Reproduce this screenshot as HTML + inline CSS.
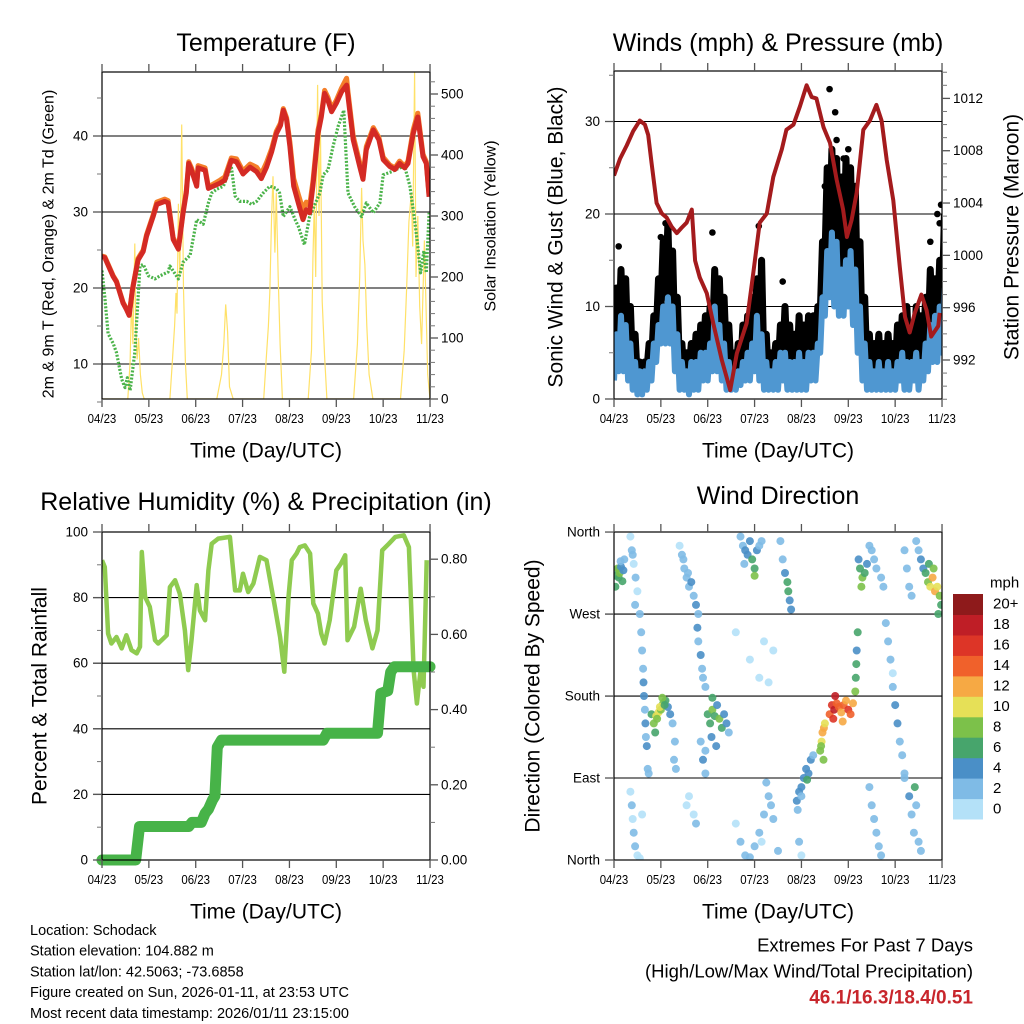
<!DOCTYPE html>
<html><head><meta charset="utf-8"><style>
html,body{margin:0;padding:0;background:#fff}
svg{display:block;font-family:"Liberation Sans",sans-serif}
</style></head><body>
<svg id="root" width="1024" height="1024" viewBox="0 0 1024 1024" xmlns="http://www.w3.org/2000/svg">
<g id="layer"></g>
</svg>
<script>
// ---------------- Data ----------------
const dayLabels = ["04/23","05/23","06/23","07/23","08/23","09/23","10/23","11/23"];
// Temperature panel
const tempT = [0,0.06,0.24,0.31,0.45,0.52,0.58,0.65,0.77,0.88,0.95,1.09,1.17,1.34,1.41,1.52,1.63,1.73,1.8,1.85,1.91,2.02,2.05,2.2,2.27,2.52,2.62,2.76,2.87,3.01,3.16,3.3,3.4,3.51,3.62,3.72,3.81,3.87,3.94,4.01,4.09,4.19,4.29,4.36,4.43,4.5,4.61,4.68,4.75,4.82,4.9,5.0,5.11,5.22,5.25,5.36,5.5,5.57,5.64,5.79,5.91,6.0,6.14,6.25,6.35,6.46,6.53,6.64,6.74,6.85,6.92,6.98];
const temp2m = [24.1,24,21.5,20.8,18,17.2,16.4,19.8,23.7,24.8,26.8,29.4,31,31.4,31.2,26.4,25.1,29.9,32.5,36.4,35.5,33.4,35.8,35.5,33.1,33.8,34.2,36.8,36.6,35,35.9,35.3,34.4,35.9,37.9,40.3,41.4,43.4,42.1,38.6,33.4,31.2,29,30.3,29.9,33.4,40.3,42.5,45.6,44.7,43.2,44.3,45.8,46.7,45.2,39.5,36,34.3,38.2,40.8,39.5,36.9,36,35.6,36.4,35.8,36.4,40.3,42.5,37.3,36.4,32];
const temp9m = [24.2,24.1,21.6,20.9,18.1,17.3,16.5,19.9,23.9,25,27,29.6,31.3,31.7,31.5,26.6,25.3,30.1,32.8,36.6,35.8,33.7,36.1,35.8,33.3,34.2,34.6,37.1,37,35.4,36.3,35.9,35,36.5,38.3,40.6,41.7,43.6,42.4,39.2,34.4,32.3,30.3,31.3,30.8,34,40.8,42.8,46,45.1,43.6,44.7,46.3,47.6,45.8,40,36.5,34.6,38.6,41.1,39.8,37.2,36.2,35.8,36.7,36,36.7,40.8,43,37.6,36.6,32.2];
const dewT = [0,0.06,0.13,0.24,0.31,0.42,0.49,0.54,0.6,0.7,0.81,0.88,0.99,1.13,1.24,1.41,1.45,1.63,1.73,1.88,2.02,2.16,2.27,2.34,2.45,2.59,2.76,2.84,2.94,3.09,3.19,3.3,3.44,3.58,3.72,3.79,3.87,4.01,4.12,4.19,4.32,4.43,4.65,4.72,4.82,4.93,5.04,5.16,5.25,5.39,5.54,5.64,5.79,5.93,6.0,6.18,6.35,6.46,6.57,6.67,6.74,6.8,6.87,6.92,6.98];
const dewPt = [22.3,18.8,14,12.7,11.5,8,6.9,8.2,6.5,11.5,22.9,23.1,21.6,21.2,21.6,22.1,22.9,21.2,23.4,24.3,29,28.4,31.2,32.5,33,33.4,36,32.1,31.4,31.4,31,31.4,32.5,33.4,33.1,32.5,29.4,30.7,29,28.1,25.7,29.4,32.5,34.9,35.5,38.6,41.3,43.4,32.5,30.7,29.4,31.2,29.9,31.2,34.9,35.3,35.8,36,33.4,29,25.5,22,24.9,22,29.9];
const solarT = [0,0.55,0.6,0.63,0.66,0.7,0.72,0.75,0.78,0.82,0.86,0.9,1.45,1.5,1.55,1.58,1.6,1.63,1.66,1.7,1.74,1.78,1.82,2.45,2.55,2.6,2.64,2.68,2.72,2.8,3.45,3.5,3.55,3.58,3.62,3.65,3.69,3.72,3.76,3.8,3.85,4.4,4.47,4.5,4.53,4.56,4.6,4.63,4.66,4.7,4.75,4.8,5.37,5.45,5.5,5.54,5.57,5.61,5.65,5.7,5.78,6.37,6.45,6.5,6.55,6.6,6.63,6.67,6.7,6.74,6.78,6.82,6.88,6.95,7];
const solarV = [0,0,60,163,90,255,120,65,100,40,10,0,0,60,120,174,140,320,200,450,180,60,0,0,40,90,155,110,20,0,0,60,120,174,300,365,240,338,200,90,0,0,80,228,321,200,515,300,448,160,70,0,0,90,200,346,260,220,120,40,0,0,80,180,290,338,250,537,200,300,152,90,260,40,0];
// Winds panel (values every 0.1 day)
const blueLo = [2,3,3,2,1,0.5,0.5,1,2,4,6,6,6,3,1,1,0.5,1,1,2,2,3,3,2,1,1,1,1.5,2,2,3,2,1,1,1,1,2,1,1,1,1,1,2,2,5,9,11,10,9,9,10,8,5,2,1,1,1,1,1,1,1,2,1,1,2,1,2,3,4,4,5];
const blueHi = [7,9,8,6,4,3,3,4,6,8,10,11,10,7,4,3,4,4,5,5,6,10,8,6,4,3,3,4,5,6,9,7,4,3,4,5,5,4,4,5,4,5,5,6,11,16,18,17,14,15,16,14,10,6,4,3,4,3,4,3,4,5,4,4,5,4,6,8,9,10,12];
const gustLo = [5,6,6,4,3,2,2,3,4,7,10,11,9,6,3,2,3,3,3,4,5,6,7,5,4,3,3,3,4,5,6,5,3,2,3,3,4,3,3,3,3,3,4,5,9,15,17,16,14,14,14,13,9,5,3,2,3,2,3,3,3,4,4,4,4,4,5,6,7,8,9];
const gustHi = [12,14,13,10,7,4,4,6,9,13,17,19,16,11,6,5,6,7,8,9,10,14,13,11,8,5,6,8,9,11,13,15,7,5,6,8,10,8,7,9,8,9,9,10,17,25,27,26,24,26,25,23,17,11,7,6,7,6,7,6,8,9,10,8,10,9,11,14,13,15,20];
const gustExtraT = [0.1,1.0,1.1,2.1,3.09,3.6,4.5,4.6,4.65,4.72,4.75,4.8,4.9,5.0,5.1,5.15,6.75,6.9,6.95,6.98];
const gustExtraV = [16.5,17.5,19,18,18.7,12.7,23,33.5,25,31,28,24,26,27,20,22,17,20,19,21];
const presT = [0,0.13,0.27,0.41,0.55,0.66,0.73,0.8,0.91,1.02,1.12,1.23,1.34,1.44,1.55,1.66,1.73,1.83,1.98,2.12,2.3,2.48,2.62,2.83,2.97,3.11,3.26,3.4,3.58,3.68,3.83,3.97,4.11,4.22,4.32,4.47,4.61,4.75,4.89,4.97,5.07,5.18,5.32,5.46,5.6,5.71,5.82,5.96,6.1,6.21,6.31,6.42,6.56,6.67,6.77,6.92,6.95];
const presV = [1006.1,1007.4,1008.4,1009.5,1010.3,1010,1009.2,1007.1,1004,1003.2,1002.9,1002.2,1001.7,1002.1,1002.5,1003.5,999.6,998.3,997.1,994.8,992,989.7,992.5,994.8,998.6,1002.5,1003.2,1006,1008.1,1009.6,1010,1011.4,1013,1012.1,1012,1009.8,1008.6,1005.8,1003.5,1001.4,1002.7,1004.8,1009.6,1010.3,1011.5,1010.3,1007.3,1004.2,999.1,995.3,994.1,995.6,997,995.8,993.8,994.6,995.6];
// RH / precipitation panel
const rhT = [0,0.06,0.13,0.2,0.31,0.42,0.52,0.63,0.74,0.81,0.85,0.92,1.02,1.13,1.2,1.38,1.45,1.56,1.66,1.77,1.84,1.91,2.02,2.09,2.2,2.27,2.34,2.48,2.73,2.84,2.94,3.01,3.12,3.23,3.37,3.51,3.69,3.8,3.89,3.98,4.05,4.15,4.22,4.33,4.44,4.51,4.61,4.68,4.75,4.86,5.0,5.1,5.19,5.24,5.38,5.52,5.63,5.77,5.88,5.98,6.12,6.26,6.44,6.55,6.65,6.72,6.79,6.86,6.93];
const rhV = [91.4,89.3,69,66,68,64.5,68.5,64,63,65,93.9,80.2,77.2,67,66,68.5,83.2,85.3,81.2,70,57.9,67,83.8,76.1,73.1,88.3,96.4,98,98.5,82.2,82.2,87.3,81.7,84.3,92.4,91.4,77.2,68,57.4,80.2,91.4,93.4,95.4,95.9,93.4,78.2,75.1,69,66,73.1,88.3,90.4,92.9,67,71.1,82.7,73.1,64.5,70,94.4,96.4,98.5,99,95.4,57.9,47.7,56.9,52.8,91.4];
const rainT = [0,0.72,0.8,1.85,1.92,2.12,2.2,2.27,2.36,2.41,2.46,2.55,2.65,4.72,4.8,5.88,5.95,6.1,6.16,6.24,7];
const rainV = [0,0,0.089,0.089,0.1,0.1,0.124,0.135,0.16,0.17,0.3,0.319,0.319,0.319,0.337,0.337,0.443,0.45,0.5,0.514,0.514];
// Wind direction panel: time (day), direction (deg), speed (mph)
const dirT = [0.02,0.05,0.08,0.1,0.12,0.15,0.18,0.2,0.03,0.14,0.22,0.35,0.38,0.42,0.46,0.5,0.55,0.58,0.6,0.62,0.63,0.64,0.66,0.67,0.68,0.7,0.72,0.74,0.45,0.4,0.35,0.38,0.4,0.42,0.45,0.5,0.55,0.6,0.8,0.85,0.9,0.95,1.0,1.05,1.1,1.15,1.2,0.88,0.92,0.98,1.03,1.08,1.25,1.3,1.28,1.32,1.4,1.45,1.5,1.55,1.6,1.65,1.7,1.75,1.8,1.48,1.58,1.78,1.8,1.85,1.88,1.9,1.95,2.0,2.05,2.1,2.15,2.2,2.25,2.3,2.35,2.4,2.45,2.08,2.18,1.95,2.1,1.85,1.9,1.95,1.6,1.7,1.75,1.55,2.7,2.75,2.8,2.85,2.9,2.95,3.0,3.05,3.1,3.15,2.78,3.0,3.55,3.6,3.65,3.7,3.72,3.75,3.78,2.6,2.7,2.8,2.9,3.0,3.1,3.2,3.3,3.35,3.4,3.5,3.25,3.15,2.9,3.2,3.4,2.6,3.1,3.3,3.9,3.95,4.0,4.05,4.1,4.15,4.2,4.25,3.92,4.0,4.12,4.4,4.43,4.45,4.48,4.5,4.42,4.47,4.6,4.65,4.7,4.75,4.8,4.85,4.9,4.95,5.0,5.05,4.72,4.68,4.88,5.1,5.15,5.16,5.17,5.18,5.2,5.22,5.25,5.3,5.35,5.4,5.45,5.5,5.55,5.6,5.28,5.7,5.75,5.45,5.5,5.55,5.6,5.65,5.7,5.8,5.85,5.9,5.95,6.0,6.05,6.1,6.15,6.2,5.95,6.2,6.25,6.3,6.35,6.45,6.5,6.55,6.6,6.65,6.7,6.75,6.8,6.85,6.9,6.95,6.98,6.72,6.82,6.92,6.2,6.3,6.35,6.4,6.45,6.5,6.55,6.42,3.95,4.0];
const dirV = [318,312,320,310,315,322,306,318,300,328,330,355,340,325,310,295,270,250,230,210,195,180,165,150,135,125,100,95,280,335,75,60,45,30,15,5,2,50,160,150,158,162,165,172,175,168,160,140,155,168,178,170,150,130,110,100,345,335,320,310,300,305,290,280,270,330,315,255,240,225,210,200,190,160,150,165,158,170,155,145,160,150,140,135,125,120,178,130,110,95,70,50,40,60,355,345,340,335,350,330,320,340,345,350,325,312,350,330,315,305,295,285,275,40,20,5,3,15,30,50,70,60,45,10,85,20,220,240,230,250,200,195,65,75,80,90,100,95,110,115,55,70,88,120,130,140,145,150,125,110,160,170,165,172,168,162,170,175,165,160,180,155,152,172,185,200,215,230,250,330,320,310,315,325,345,340,330,320,300,310,300,80,60,45,30,15,5,260,240,220,190,170,150,130,115,95,205,340,320,300,290,350,340,330,320,315,305,300,310,295,300,290,280,325,320,270,90,70,50,30,60,20,10,80,20,5];
const dirS = [5,7,9,6,8,4,6,4,6,3,3,1,2,1,2,1,3,2,2,3,4,4,3,4,3,4,3,2,2,3,1,2,1,2,2,1,1,1,6,8,10,10,9,8,7,5,4,7,9,10,8,6,3,2,3,2,1,2,3,2,3,4,3,4,3,2,3,4,3,4,3,2,3,6,7,8,6,5,9,7,5,4,3,5,4,3,7,3,4,3,1,1,2,1,2,3,4,5,4,6,7,4,3,2,2,9,2,3,4,6,6,5,4,1,2,2,3,3,2,3,3,2,2,2,2,1,1,1,1,1,1,1,4,4,5,4,4,5,4,3,3,3,6,8,10,12,13,10,9,8,14,16,18,15,14,13,15,12,16,14,19,17,13,12,8,6,6,5,6,5,7,8,6,4,3,3,2,2,9,2,2,2,3,2,3,2,3,2,3,2,3,4,4,3,3,2,1,2,3,2,3,2,3,4,5,6,8,10,12,13,10,8,7,6,9,6,3,4,3,2,2,3,2,6,2,1];
const speedLabels = ["0","2","4","6","8","10","12","14","16","18","20+"];
const speedColors = ["#b4e1f8","#7fbbe6","#4a8fc7","#47a56c","#7cc14a","#e6e057","#f6a944","#f0612b","#dd3527","#bf1e26","#8e1a1b"];

// ---------------- Helpers ----------------
const NS = "http://www.w3.org/2000/svg";
const layer = document.getElementById('layer');
function mk(tag, attrs, parent){
  const e = document.createElementNS(NS, tag);
  for (const k in attrs) e.setAttribute(k, attrs[k]);
  (parent||layer).appendChild(e);
  return e;
}
function txt(s, x, y, size, anchor, parent, extra){
  const t = mk('text', Object.assign({x:x, y:y, 'font-size':size, 'text-anchor':anchor||'middle', fill:'#000', 'dominant-baseline':'central'}, extra||{}), parent);
  t.textContent = s;
  return t;
}
const DAYW = 46.86;
function panel(x0,x1,y0,y1,name){
  const g = mk('g', {});
  
  
  return {x0,x1,y0,y1,g,X:(t)=>x0+t*DAYW};
}
function frame(p){
  const r = mk('rect',{x:p.x0,y:p.y0,width:p.x1-p.x0,height:p.y1-p.y0,fill:'none',stroke:'#000','stroke-width':1.2}, p.g);
  
  
  const xa = mk('g',{}, p.g);
  
  
  for (let i=0;i<dayLabels.length;i++){
    const x = p.X(i);
    mk('line',{x1:x,x2:x,y1:p.y1,y2:p.y1+8,stroke:'#555','stroke-width':1.3}, xa);
    mk('line',{x1:x,x2:x,y1:p.y0,y2:p.y0-8,stroke:'#555','stroke-width':1.3}, xa);
    const t = txt(dayLabels[i], x, p.y1+20, 13, 'middle', xa, {transform:`translate(${x},0) scale(0.88,1) translate(${-x},0)`});
    
    
  }
  const xt = txt('Time (Day/UTC)', (p.x0+p.x1)/2, p.y1+52, 21, 'middle', p.g);
  
  
}
function grid(p, ys){
  for (const y of ys){
    mk('line',{x1:p.x0-9,x2:p.x1,y1:y,y2:y,stroke:'#000','stroke-width':1.1}, p.g);
  }
}
function leftAxis(p, vals, labels, ymap, minors, name){
  const g = mk('g',{}, p.g);
  
  
  vals.forEach((v,i)=>{
    const y = ymap(v);
    mk('line',{x1:p.x0-9,x2:p.x0,y1:y,y2:y,stroke:'#555','stroke-width':1.3}, g);
    txt(labels[i], p.x0-14, y, 13.5, 'end', g);
  });
  (minors||[]).forEach(v=>{ const y=ymap(v); mk('line',{x1:p.x0-5,x2:p.x0,y1:y,y2:y,stroke:'#777','stroke-width':1}, g); });
}
function rightAxis(p, vals, labels, ymap, minors, name){
  const g = mk('g',{}, p.g);
  
  
  vals.forEach((v,i)=>{
    const y = ymap(v);
    mk('line',{x1:p.x1,x2:p.x1+8,y1:y,y2:y,stroke:'#555','stroke-width':1.3}, g);
    txt(labels[i], p.x1+11, y, 13.5, 'start', g);
  });
  (minors||[]).forEach(v=>{ const y=ymap(v); mk('line',{x1:p.x1,x2:p.x1+5,y1:y,y2:y,stroke:'#777','stroke-width':1}, g); });
}
function vtitle(s, x, y, size, name){
  const t = txt(s, x, y, size, 'middle', layer, {transform:`rotate(-90 ${x} ${y})`});
  
  
}
function title(s, x, y, name){
  const t = txt(s, x, y, 25, 'middle');
  
  
}
function pts(ts, vs, X, Y){ return ts.map((t,i)=>X(t).toFixed(1)+','+Y(vs[i]).toFixed(1)).join(' '); }
function clip(p, id){
  const c = mk('clipPath',{id:id});
  mk('rect',{x:p.x0,y:p.y0,width:p.x1-p.x0,height:p.y1-p.y0}, c);
}

// ---------------- Panel 1: Temperature ----------------
const p1 = panel(102,430,72,399,'temperature-panel');
const yT = v => 364-(v-10)*7.6;
const yS = v => 399-v*0.61;
clip(p1,'c1');
grid(p1,[10,20,30,40].map(yT));
const g1 = mk('g',{'clip-path':'url(#c1)'}, p1.g);
const solar = mk('polyline',{points:pts(solarT,solarV,p1.X,yS),fill:'none',stroke:'#ffe168','stroke-width':1.2}, g1);


const dew = mk('polyline',{points:pts(dewT,dewPt,p1.X,yT),fill:'none',stroke:'#4bb34a','stroke-width':3.2,'stroke-dasharray':'2,1.6','stroke-linejoin':'round'}, g1);


const t9 = mk('polyline',{points:pts(tempT,temp9m,p1.X,yT),fill:'none',stroke:'#f47f2a','stroke-width':5,'stroke-linejoin':'round'}, g1);


const t2 = mk('polyline',{points:pts(tempT,temp2m,p1.X,yT),fill:'none',stroke:'#d42a24','stroke-width':5,'stroke-linejoin':'round'}, g1);


frame(p1);
leftAxis(p1,[10,20,30,40],['10','20','30','40'],yT,[5,15,25,35,45],'left-y-axis');
rightAxis(p1,[0,100,200,300,400,500],['0','100','200','300','400','500'],yS,[20,40,60,80,120,140,160,180,220,240,260,280,320,340,360,380,420,440,460,480,520],'right-y-axis');
title('Temperature (F)',266,43,'temperature-title');
vtitle('2m & 9m T (Red, Orange) & 2m Td (Green)',49,244,16,'temperature-y-axis-title');
vtitle('Solar Insolation (Yellow)',491,226,16,'solar-y-axis-title');

// ---------------- Panel 2: Winds & Pressure ----------------
const p2 = panel(614,942,71,399,'winds-pressure-panel');
const yW = v => 399-v*9.25;
const yP = v => 360-(v-992)*13.08;
clip(p2,'c2');
grid(p2,[10,20,30].map(yW));
const g2 = mk('g',{'clip-path':'url(#c2)'}, p2.g);
function zig(lo,hi){
  const a=[];
  for(let i=0;i<lo.length;i++){
    a.push(p2.X(i*0.1).toFixed(1)+','+yW(lo[i]).toFixed(1));
    a.push(p2.X(i*0.1+0.05).toFixed(1)+','+yW(hi[i]).toFixed(1));
  }
  return a.join(' ');
}
const gust = mk('polyline',{points:zig(gustLo,gustHi),fill:'none',stroke:'#000','stroke-width':7,'stroke-linejoin':'round'}, g2);


gustExtraT.forEach((t,i)=>{
  const c = mk('circle',{cx:p2.X(t),cy:yW(gustExtraV[i]),r:3.3,fill:'#000'}, g2);
  
  
});
const wind = mk('polyline',{points:zig(blueLo,blueHi),fill:'none',stroke:'#4f97d1','stroke-width':6,'stroke-linejoin':'round'}, g2);


const pres = mk('polyline',{points:pts(presT,presV,p2.X,yP),fill:'none',stroke:'#a41b1d','stroke-width':4,'stroke-linejoin':'round'}, g2);


frame(p2);
leftAxis(p2,[0,10,20,30],['0','10','20','30'],yW,[5,15,25,35],'left-y-axis');
const presMin=[]; for(let v=989;v<=1014;v++) if(v%4) presMin.push(v);
rightAxis(p2,[992,996,1000,1004,1008,1012],['992','996','1000','1004','1008','1012'],yP,presMin,'right-y-axis');
title('Winds (mph) & Pressure (mb)',778,43,'winds-title');
vtitle('Sonic Wind & Gust (Blue, Black)',556,237,21,'wind-y-axis-title');
vtitle('Station Pressure (Maroon)',1012,237,21,'pressure-y-axis-title');

// ---------------- Panel 3: RH & Precip ----------------
const p3 = panel(102,430,532,860,'humidity-precip-panel');
const yR = v => 860-v*3.28;
const yPr = v => 860-v*376;
clip(p3,'c3');
grid(p3,[20,40,60,80].map(yR));
const g3 = mk('g',{'clip-path':'url(#c3)'}, p3.g);
const rh = mk('polyline',{points:pts(rhT,rhV,p3.X,yR),fill:'none',stroke:'#8fcb50','stroke-width':4.5,'stroke-linejoin':'round'}, g3);


const rain = mk('polyline',{points:pts(rainT,rainV,p3.X,yPr),fill:'none',stroke:'#47b348','stroke-width':11,'stroke-linejoin':'round','stroke-linecap':'round'}, p3.g);


frame(p3);
leftAxis(p3,[0,20,40,60,80,100],['0','20','40','60','80','100'],yR,[10,30,50,70,90],'left-y-axis');
rightAxis(p3,[0,0.2,0.4,0.6,0.8],['0.00','0.20','0.40','0.60','0.80'],yPr,[0.1,0.3,0.5,0.7],'right-y-axis');
title('Relative Humidity (%) & Precipitation (in)',266,502,'humidity-title');
vtitle('Percent & Total Rainfall',40,696,21,'humidity-y-axis-title');

// ---------------- Panel 4: Wind direction ----------------
const p4 = panel(614,942,532,860,'wind-direction-panel');
const yD = v => 860-v*0.911;
clip(p4,'c4');
grid(p4,[90,180,270].map(yD));
const g4 = mk('g',{'clip-path':'url(#c4)'}, p4.g);
dirT.forEach((t,i)=>{
  const bin = Math.min(10, Math.max(0, Math.floor(dirS[i]/2)));
  const c = mk('circle',{cx:p4.X(t).toFixed(1),cy:yD(dirV[i]).toFixed(1),r:4,fill:speedColors[bin],'fill-opacity':0.9}, g4);
  
  
});
frame(p4);
leftAxis(p4,[0,90,180,270,360],['North','East','South','West','North'],yD,[],'left-y-axis');
title('Wind Direction',778,496,'wind-direction-title');
vtitle('Direction (Colored By Speed)',533,696,21,'direction-y-axis-title');
// colorbar
const cb = mk('g',{});


const boxH = (819-594)/11;
for(let i=0;i<11;i++){
  const y = 594 + (10-i)*boxH;
  mk('rect',{x:953,y:y.toFixed(1),width:30,height:(boxH+0.5).toFixed(1),fill:speedColors[i]}, cb);
  txt(speedLabels[i], 993, y+boxH/2, 15, 'start', cb);
}
txt('mph', 990, 583, 15, 'start', cb);

// ---------------- Footer ----------------
const info = ["Location: Schodack","Station elevation: 104.882 m","Station lat/lon: 42.5063; -73.6858","Figure created on Sun, 2026-01-11, at 23:53 UTC","Most recent data timestamp: 2026/01/11 23:15:00"];
const ft = mk('g',{});


info.forEach((s,i)=>txt(s, 30, 931+i*20.7, 14.5, 'start', ft));
const ex = mk('g',{});


txt('Extremes For Past 7 Days', 973, 945, 18.5, 'end', ex);
txt('(High/Low/Max Wind/Total Precipitation)', 973, 971, 18.5, 'end', ex);
txt('46.1/16.3/18.4/0.51', 973, 998, 19, 'end', ex, {fill:'#c8262c','font-weight':'bold'});
</script>
</body></html>
